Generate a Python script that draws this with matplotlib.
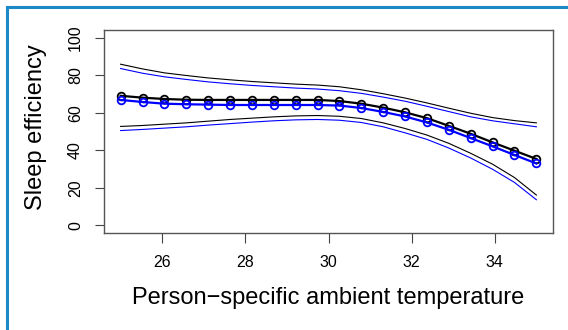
import numpy as np
import matplotlib.pyplot as plt
from matplotlib.patches import Rectangle

plt.rcParams['font.family'] = ['Liberation Sans', 'DejaVu Sans']

# Data
temp = np.linspace(25, 35, 20)

black_fit = [69.0, 68.0, 67.3, 66.9, 66.8, 66.8, 66.8, 66.8, 66.8, 66.8,
             66.2, 64.8, 62.7, 60.2, 57.1, 53.0, 48.8, 44.2, 39.8, 35.4]
blue_fit = [66.8, 65.7, 64.8, 64.5, 64.3, 64.1, 64.1, 64.1, 64.1, 64.1,
            63.8, 62.5, 60.4, 58.0, 54.8, 50.9, 46.5, 42.1, 37.5, 33.0]

black_upper = [85.8, 83.3, 81.2, 79.8, 78.5, 77.5, 76.6, 75.9, 75.2, 74.7,
               73.8, 72.2, 70.1, 67.8, 65.2, 62.4, 59.7, 57.4, 55.8, 54.6]
blue_upper = [83.5, 81.0, 79.1, 77.7, 76.4, 75.4, 74.5, 73.8, 73.1, 72.6,
              71.7, 70.3, 68.3, 66.1, 63.4, 60.6, 57.8, 55.7, 54.1, 52.5]
black_lower = [52.7, 53.2, 53.9, 54.6, 55.5, 56.4, 57.1, 57.8, 58.3, 58.5,
               58.1, 56.9, 54.6, 51.6, 48.1, 43.7, 38.4, 32.6, 25.5, 16.2]
blue_lower = [50.5, 51.1, 51.8, 52.5, 53.4, 54.2, 55.0, 55.7, 56.2, 56.4,
              56.0, 54.8, 52.5, 49.3, 45.8, 41.2, 35.9, 29.9, 22.9, 13.7]

x_ticks = [26, 28, 30, 32, 34]
y_ticks = [0, 20, 40, 60, 80, 100]

fig = plt.figure(figsize=(5.68, 3.30), dpi=100)
ax = fig.add_axes([0.1831, 0.2939, 0.7905, 0.6152])

# confidence bands
ax.plot(temp, black_upper, color='black', lw=0.8)
ax.plot(temp, black_lower, color='black', lw=0.8)
ax.plot(temp, blue_upper, color='blue', lw=0.8)
ax.plot(temp, blue_lower, color='blue', lw=0.8)

# fitted curves
ax.plot(temp, black_fit, color='black', lw=1.6, marker='o', ms=5.5,
        mfc='none', mec='black', mew=1.3)
ax.plot(temp, blue_fit, color='blue', lw=1.6, marker='o', ms=5.5,
        mfc='none', mec='blue', mew=1.3)

ax.set_xlim(24.6, 35.4)
ax.set_ylim(-4, 104)
ax.set_xticks(x_ticks)
ax.set_yticks(y_ticks)
ax.set_yticklabels([str(v) for v in y_ticks], rotation=90, va='center', ha='center')
ax.tick_params(axis='x', length=7, width=0.8, color='#444444', labelsize=11.5, pad=14.5)
ax.tick_params(axis='y', length=6.5, width=0.8, color='#444444', labelsize=11.5, pad=14)
for lab in ax.get_xticklabels():
    lab.set_va('center')
for s in ax.spines.values():
    s.set_color('#555555')
    s.set_linewidth(1.0)

fig.text(328.5 / 568, 1 - 304 / 330, 'Person\u2212specific ambient temperature',
         fontsize=17, ha='center', va='baseline')
fig.text(36 / 568, 1 - 127 / 330, 'Sleep efficiency', fontsize=17,
         rotation=90, ha='center', va='center')

# blue frame around the figure
fig.patches.append(Rectangle((7 / 568, -0.1), 1.2, 1.1 - 7 / 330,
                             transform=fig.transFigure, fill=False,
                             edgecolor='#1b8ac4', lw=2.2))

fig.savefig('out.png', dpi=100)
